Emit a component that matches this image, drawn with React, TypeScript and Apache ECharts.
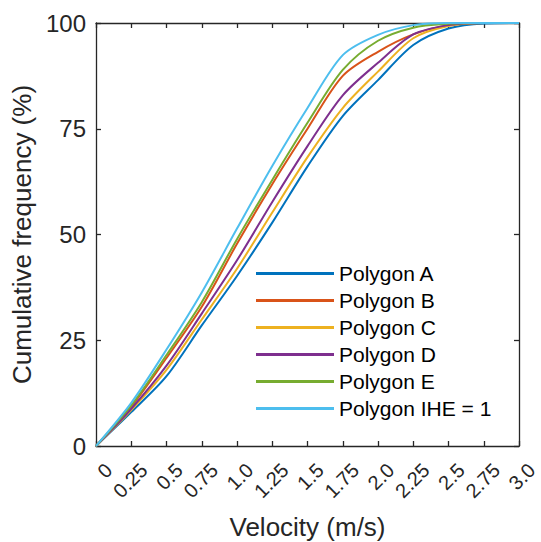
import React, { useEffect, useRef } from "react";
import * as echarts from "echarts";

const velocity = [0, 0.25, 0.5, 0.75, 1.0, 1.25, 1.5, 1.75, 2.0, 2.25, 2.5, 2.75, 3.0];
const xTickLabels = ["0", "0.25", "0.5", "0.75", "1.0", "1.25", "1.5", "1.75", "2.0", "2.25", "2.5", "2.75", "3.0"];
const yTickLabels = ["0", "25", "50", "75", "100"];

const polygonA = [0, 8.0, 16.5, 28.5, 40.2, 52.8, 66.1, 78.0, 86.5, 94.8, 98.7, 99.9, 100];
const polygonB = [0, 9.3, 20.8, 32.9, 47.8, 61.9, 75.0, 87.5, 93.2, 97.3, 99.5, 100, 100];
const polygonC = [0, 8.5, 18.0, 29.9, 41.9, 55.2, 68.3, 79.9, 88.5, 96.4, 99.3, 100, 100];
const polygonD = [0, 8.8, 19.0, 31.3, 43.9, 57.7, 70.9, 82.9, 90.6, 97.3, 99.5, 100, 100];
const polygonE = [0, 9.6, 21.5, 34.0, 48.9, 62.9, 76.4, 88.9, 95.8, 98.9, 99.8, 100, 100];
const polygonIHE = [0, 10.2, 22.8, 36.3, 51.4, 66.2, 79.9, 92.4, 97.2, 99.5, 100, 100, 100];

const seriesNames = ["Polygon A", "Polygon B", "Polygon C", "Polygon D", "Polygon E", "Polygon IHE = 1"];
const seriesValues = [polygonA, polygonB, polygonC, polygonD, polygonE, polygonIHE];
const colors = ["#0072BD", "#D95319", "#EDB120", "#7E2F8E", "#77AC30", "#4DBEEE"];

const FONT = "Liberation Sans, Arial, Helvetica, sans-serif";
const AXIS_COLOR = "#262626";

export default function App() {
  const ref = useRef<HTMLDivElement>(null);
  useEffect(() => {
    document.body.style.margin = "0";
    if (!ref.current) return;
    const chart = echarts.init(ref.current, undefined, { renderer: "svg" });
    const axisLine = { show: true, onZero: false, lineStyle: { color: AXIS_COLOR, width: 1.3 } };
    const axisTick = { show: true, inside: true, length: 5, lineStyle: { color: AXIS_COLOR, width: 1.3 } };
    chart.setOption({
      animation: false,
      backgroundColor: "#ffffff",
      color: colors,
      textStyle: { fontFamily: FONT },
      grid: {
        left: 96,
        top: 23,
        width: 423,
        height: 423,
        containLabel: false,
        outerBoundsMode: "none",
      },
      xAxis: [
        {
          type: "category",
          position: "bottom",
          data: xTickLabels,
          boundaryGap: false,
          axisLine,
          axisTick: { ...axisTick, interval: 0 },
          splitLine: { show: false },
          name: "Velocity (m/s)",
          nameLocation: "middle",
          nameGap: 66,
          nameTextStyle: { color: AXIS_COLOR, fontSize: 26, fontFamily: FONT },
          axisLabel: {
            rotate: 45,
            margin: 8,
            interval: 0,
            color: AXIS_COLOR,
            fontSize: 20,
            lineHeight: 36,
            verticalAlign: "top",
            fontFamily: FONT,
          },
        },
        {
          type: "value",
          position: "top",
          min: 0,
          max: 3,
          interval: 0.25,
          axisLine,
          axisTick,
          splitLine: { show: false },
          axisLabel: { show: false },
        },
      ],
      yAxis: [
        {
          type: "value",
          position: "left",
          min: 0,
          max: 100,
          interval: 25,
          axisLine,
          axisTick,
          splitLine: { show: false },
          name: "Cumulative frequency (%)",
          nameLocation: "middle",
          nameGap: 53,
          nameTextStyle: { color: AXIS_COLOR, fontSize: 26, fontFamily: FONT },
          axisLabel: {
            margin: 10,
            color: AXIS_COLOR,
            fontSize: 24,
            fontFamily: FONT,
            formatter: (v: number) => yTickLabels[Math.round(v / 25)] ?? "",
          },
        },
        {
          type: "value",
          position: "right",
          min: 0,
          max: 100,
          interval: 25,
          axisLine,
          axisTick,
          splitLine: { show: false },
          axisLabel: { show: false },
        },
      ],
      legend: {
        orient: "vertical",
        left: 256,
        top: 263,
        padding: 0,
        icon: "rect",
        itemWidth: 78,
        itemHeight: 3,
        itemGap: 6,
        textStyle: { fontSize: 21, color: "#000000", fontFamily: FONT },
        data: seriesNames,
      },
      series: seriesNames.map((name, i) => ({
        name,
        type: "line",
        xAxisIndex: 1,
        yAxisIndex: 0,
        showSymbol: false,
        symbol: "none",
        smooth: 0.3,
        lineStyle: { width: 2, color: colors[i] },
        itemStyle: { color: colors[i] },
        data: velocity.map((x, j) => [x, seriesValues[i][j]]),
      })),
    });
    return () => chart.dispose();
  }, []);
  return <div ref={ref} style={{ width: 541, height: 542 }} />;
}
